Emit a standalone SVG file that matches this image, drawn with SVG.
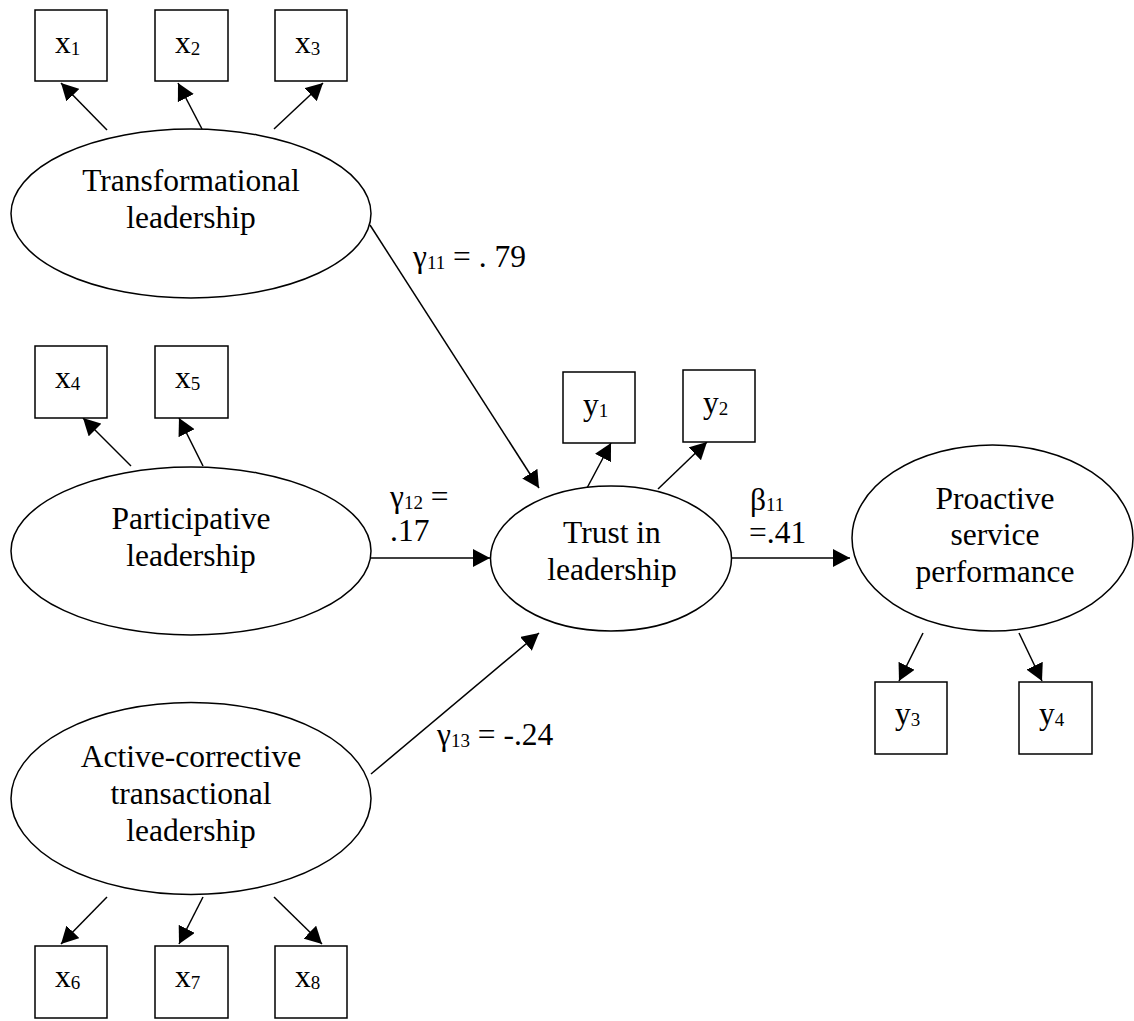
<svg xmlns="http://www.w3.org/2000/svg" width="1134" height="1021" viewBox="0 0 1134 1021">
  <style>
    .lat { fill: #fff; stroke: #000; stroke-width: 1.5; }
    .ind { fill: #fff; stroke: #000; stroke-width: 1.5; }
    .lbl { font-family: "Liberation Serif", "Times New Roman", serif; font-size: 31.5px; fill: #000; }
    .mid { text-anchor: middle; }
    .sub { font-size: 19px; }
    .edge { stroke: #000; stroke-width: 1.5; fill: none; marker-end: url(#head); }
  </style>
  <defs>
    <marker id="head" viewBox="0 0 17 18" refX="17" refY="9" markerWidth="17" markerHeight="18" markerUnits="userSpaceOnUse" orient="auto">
      <path d="M0,0 L17,9 L0,18 Z" fill="#000"/>
    </marker>
  </defs>

  <rect width="1134" height="1021" fill="#fff"/>

  <!-- connectors -->
  <g id="connectors">
    <line class="edge" x1="107" y1="130" x2="61" y2="83"/>
    <line class="edge" x1="202" y1="129" x2="178" y2="83"/>
    <line class="edge" x1="274" y1="129" x2="323" y2="83"/>
    <line class="edge" x1="131" y1="466" x2="83" y2="418"/>
    <line class="edge" x1="203" y1="466" x2="179" y2="418"/>
    <line class="edge" x1="370" y1="225" x2="539" y2="488"/>
    <line class="edge" x1="587" y1="488" x2="611" y2="443"/>
    <line class="edge" x1="658" y1="489" x2="707" y2="442"/>
    <line class="edge" x1="371" y1="558" x2="490" y2="558"/>
    <line class="edge" x1="731" y1="558" x2="850" y2="558"/>
    <line class="edge" x1="371" y1="774" x2="539" y2="633"/>
    <line class="edge" x1="923" y1="633" x2="899" y2="681"/>
    <line class="edge" x1="1019" y1="633" x2="1042" y2="681"/>
    <line class="edge" x1="107" y1="897" x2="61" y2="944"/>
    <line class="edge" x1="203" y1="897" x2="179" y2="944"/>
    <line class="edge" x1="274" y1="897" x2="322" y2="944"/>

    <!-- path coefficients -->
    <text class="lbl" x="413" y="267">γ<tspan class="sub" dy="2">11</tspan><tspan dy="-2"> = . 79</tspan></text>
    <text class="lbl" x="390" y="507">γ<tspan class="sub" dy="2">12</tspan><tspan dy="-2"> =</tspan></text>
    <text class="lbl" x="390" y="541">.17</text>
    <text class="lbl" x="750" y="510">β<tspan class="sub" dy="1">11</tspan></text>
    <text class="lbl" x="749" y="543">=.41</text>
    <text class="lbl" x="437" y="745">γ<tspan class="sub" dy="2">13</tspan><tspan dy="-2"> = -.24</tspan></text>
  </g>

  <!-- latent constructs -->
  <g id="transformational">
    <ellipse class="lat" cx="191" cy="213.5" rx="180" ry="84.5"/>
    <text class="lbl mid" x="191" y="191">Transformational</text>
    <text class="lbl mid" x="191" y="228">leadership</text>
  </g>
  <g id="participative">
    <ellipse class="lat" cx="191" cy="551" rx="180" ry="84"/>
    <text class="lbl mid" x="191" y="529">Participative</text>
    <text class="lbl mid" x="191" y="566">leadership</text>
  </g>
  <g id="active-corrective">
    <ellipse class="lat" cx="191" cy="798.5" rx="180" ry="96"/>
    <text class="lbl mid" x="191" y="767">Active-corrective</text>
    <text class="lbl mid" x="191" y="804">transactional</text>
    <text class="lbl mid" x="191" y="841">leadership</text>
  </g>
  <g id="trust">
    <ellipse class="lat" cx="611" cy="558.5" rx="120.5" ry="72.5"/>
    <text class="lbl mid" x="612" y="543">Trust in</text>
    <text class="lbl mid" x="612" y="580">leadership</text>
  </g>
  <g id="proactive">
    <ellipse class="lat" cx="992.5" cy="538" rx="140.5" ry="93"/>
    <text class="lbl mid" x="995" y="509">Proactive</text>
    <text class="lbl mid" x="995" y="545">service</text>
    <text class="lbl mid" x="995" y="582">performance</text>
  </g>

  <!-- indicators -->
  <g id="x1"><rect class="ind" x="35" y="10" width="72" height="71"/><text class="lbl" x="55" y="53">x<tspan class="sub" dy="2">1</tspan></text></g>
  <g id="x2"><rect class="ind" x="155" y="10" width="73" height="71"/><text class="lbl" x="175" y="53">x<tspan class="sub" dy="2">2</tspan></text></g>
  <g id="x3"><rect class="ind" x="275" y="10" width="72" height="71"/><text class="lbl" x="295" y="53">x<tspan class="sub" dy="2">3</tspan></text></g>
  <g id="x4"><rect class="ind" x="35" y="346" width="72" height="72"/><text class="lbl" x="55" y="388">x<tspan class="sub" dy="2">4</tspan></text></g>
  <g id="x5"><rect class="ind" x="155" y="346" width="73" height="72"/><text class="lbl" x="175" y="388">x<tspan class="sub" dy="2">5</tspan></text></g>
  <g id="y1"><rect class="ind" x="563" y="372" width="72" height="71"/><text class="lbl" x="583" y="415">y<tspan class="sub" dy="2">1</tspan></text></g>
  <g id="y2"><rect class="ind" x="683" y="370" width="72" height="72"/><text class="lbl" x="703" y="413">y<tspan class="sub" dy="2">2</tspan></text></g>
  <g id="y3"><rect class="ind" x="875" y="682" width="72" height="72"/><text class="lbl" x="895" y="724">y<tspan class="sub" dy="2">3</tspan></text></g>
  <g id="y4"><rect class="ind" x="1019" y="682" width="73" height="72"/><text class="lbl" x="1039" y="724">y<tspan class="sub" dy="2">4</tspan></text></g>
  <g id="x6"><rect class="ind" x="35" y="946" width="72" height="72"/><text class="lbl" x="55" y="987">x<tspan class="sub" dy="2">6</tspan></text></g>
  <g id="x7"><rect class="ind" x="155" y="946" width="73" height="72"/><text class="lbl" x="175" y="987">x<tspan class="sub" dy="2">7</tspan></text></g>
  <g id="x8"><rect class="ind" x="275" y="946" width="72" height="72"/><text class="lbl" x="295" y="987">x<tspan class="sub" dy="2">8</tspan></text></g>
</svg>
